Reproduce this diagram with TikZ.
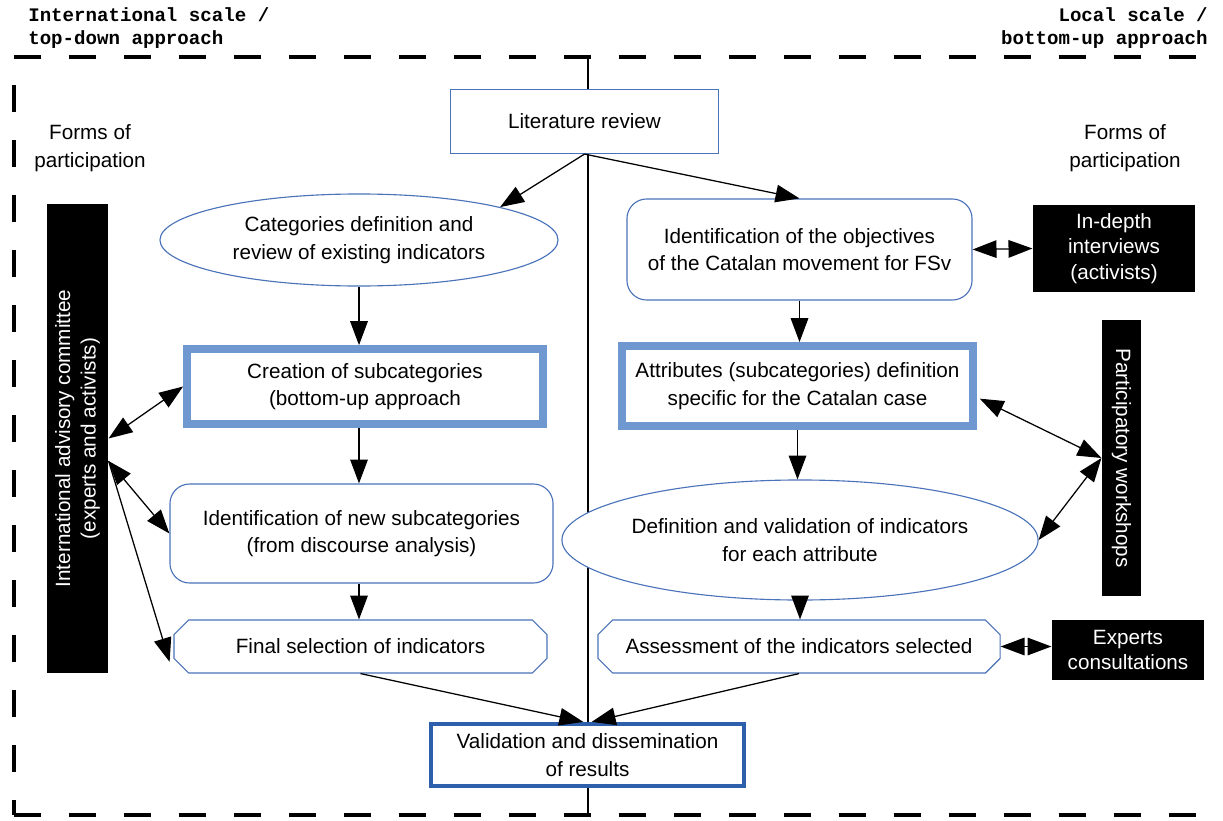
\documentclass[tikz,border=0pt]{standalone}
\usepackage{fontspec}
\setmainfont{Liberation Sans}
\setmonofont{Liberation Mono}
\usepackage{tikz}
\usetikzlibrary{shapes,shapes.geometric,shapes.misc}
\usetikzlibrary{arrows.meta}
\usetikzlibrary{positioning}
\definecolor{lineblue}{RGB}{75,115,185}
\definecolor{bandblue}{RGB}{112,152,208}
\definecolor{deepblue}{RGB}{45,95,170}
\tikzset{stage/.style={rectangle,fill=white,draw=lineblue,line width=0.8pt,inner sep=0pt,
align=center,font=\fontsize{14.7}{19.5}\selectfont},
oval/.style={stage,ellipse},
rbox/.style={stage,rounded corners=14pt},
cbox/.style={stage,chamfered rectangle,chamfered rectangle xsep=8pt,chamfered rectangle ysep=5pt},
keybox/.style={stage,draw=bandblue,line width=5.5pt},
outbox/.style={stage,draw=deepblue,line width=3pt},
actor/.style={stage,fill=black,draw=none,text=white,font=\fontsize{14.7}{18}\selectfont},
note/.style={align=center,inner sep=0pt,font=\fontsize{14.7}{19.5}\selectfont},
head/.style={inner sep=0pt,font=\ttfamily\bfseries\fontsize{13.6}{16.4}\selectfont},
frame/.style={line width=2.3pt,dash pattern=on 19.2pt off 19.9pt},
link/.style={color=black,line width=0.9pt},
>={Triangle[length=17pt,width=12.5pt]}}

\begin{document}
\begin{tikzpicture}[x=0.025cm,y=-0.025cm]
  \useasboundingbox (0,0) rectangle (1223,821);
  % the two scales
  \draw [frame] (14,57) -- (1223,57);
  \draw [frame] (14,85) -- (14,815);
  \draw [frame] (14,815) -- (1223,815);
  \draw [line width=1.4pt] (588,57) -- (588,815);

  \node (intl) [head,anchor=west,align=left] at (28,28.5) {International scale /\\top-down approach};
  \node (local) [head,anchor=east,align=right] at (1208,28.5) {Local scale /\\bottom-up approach};
  \node (formsl) [note] at (90,148) {Forms of\\participation};
  \node (formsr) [note] at (1125,148) {Forms of\\participation};

  \node (lit) [stage,minimum width=6.7cm,minimum height=1.6cm] at (584.5,121.5) {Literature review};
  \node (cat) [oval,minimum width=9.95cm,minimum height=2.3cm] at (359,240) {Categories definition and\\review of existing indicators};
  \node (obj) [rbox,minimum width=8.625cm,minimum height=2.525cm] at (799.5,249.5) {Identification of the objectives\\of the Catalan movement for FSv};
  \node (interv) [actor,minimum width=4.05cm,minimum height=2.175cm] at (1114,248.5) {In-depth\\interviews\\(activists)};
  \node (creat) [keybox,minimum width=8.9cm,minimum height=1.875cm] at (365,386.5) {Creation of subcategories\\(bottom-up approach};
  \node (attr) [keybox,minimum width=8.775cm,minimum height=2.0cm] at (797.5,386) {Attributes (subcategories) definition\\specific for the Catalan case};
  \node (idnew) [rbox,minimum width=9.575cm,minimum height=2.475cm] at (361.5,533.5) {Identification of new subcategories\\(from discourse analysis)};
  \node (defval) [oval,minimum width=10.1cm,minimum height=3.0cm] at (800,540) {Definition and validation of indicators\\for each attribute};
  \node (final) [cbox,minimum width=9.325cm,minimum height=1.325cm] at (360.5,646.5) {Final selection of indicators};
  \node (assess) [cbox,minimum width=10.05cm,minimum height=1.325cm] at (799,646.5) {Assessment of the indicators selected};
  \node (experts) [actor,minimum width=3.8cm,minimum height=1.5cm] at (1128,650) {Experts\\consultations};
  \node (ws) [actor,rotate=-90,minimum width=6.875cm,minimum height=0.975cm] at (1121.5,458) {Participatory workshops};
  \node (comm) [actor,rotate=90,minimum width=11.725cm,minimum height=1.525cm] at (77.5,438.5) {International advisory committee\\(experts and activists)};
  \node (valid) [outbox,minimum width=7.825cm,minimum height=1.55cm] at (587.5,755) {Validation and dissemination\\of results};

  \draw [link,->] (lit.south) -- (cat.north east);
  \draw [link,->] (lit.south) -- (obj.north);
  \draw [link,->] (cat.south) -- (cat.south |- creat.north);
  \draw [link,->] (obj.south) -- (obj.south |- attr.north);
  \draw [link,->] (cat.south |- creat.south) -- (cat.south |- idnew.north);
  \draw [link,->] (cat.south |- idnew.south) -- (cat.south |- final.north);
  \draw [link,->] (attr.south) -- (attr.south |- defval.north);
  \draw [link,->] (defval.south) -- (defval.south |- assess.north);
  \draw [link,->] (final.south) -- ([xshift=-3pt]valid.north);
  \draw [link,->] (assess.south) -- ([xshift=3pt]valid.north);
  \draw [link,<->] (obj.east) -- (interv.west);
  \draw [link,<->] (assess.east) -- (assess.east -| experts.west);
  \draw [link,<->] ([xshift=2pt,yshift=-9pt]attr.east) -- (ws.south);
  \draw [link,<->] (defval.east) -- (ws.south);
  \draw [link,<->] (comm.south) -- (creat.west);
  \draw [link,<->] ([yshift=-16pt]comm.south) -- (idnew.west);
  \draw [link,->] ([yshift=-16pt]comm.south) -- ([xshift=-8pt,yshift=3pt]final.south west);
\end{tikzpicture}
\end{document}
